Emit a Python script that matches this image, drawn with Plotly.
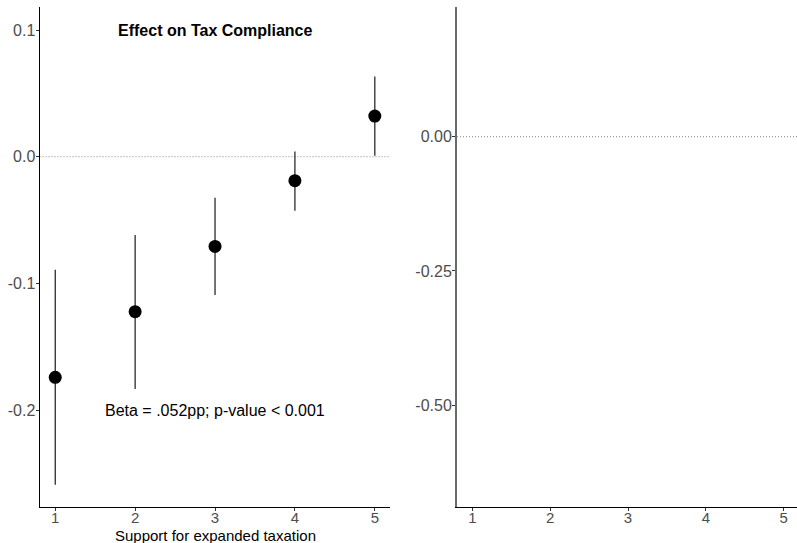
import plotly.graph_objects as go

# ---- data ----
support_levels = [1, 2, 3, 4, 5]
effect = [-0.1742, -0.1223, -0.0708, -0.0189, 0.0321]
ci_low = [-0.2590, -0.1834, -0.1092, -0.0426, 0.0008]
ci_high = [-0.0892, -0.0618, -0.0324, 0.0042, 0.0634]

x_tick_vals = [1, 2, 3, 4, 5]
x_tick_text = ["1", "2", "3", "4", "5"]
left_y_tick_vals = [0.1, 0.0, -0.1, -0.2]
left_y_tick_text = ["0.1", "0.0", "-0.1", "-0.2"]
right_y_tick_vals = [0.0, -0.25, -0.50]
right_y_tick_text = ["0.00", "-0.25", "-0.50"]

title_text = "Effect on Tax Compliance"
note_text = "Beta = .052pp; p-value < 0.001"
x_title = "Support for expanded taxation"

W, H = 797, 543
FONT = "Liberation Sans, Arial, sans-serif"

def px_x(p):
    return p / W

def px_y(p):
    return 1 - p / H

err_plus = [h - e for h, e in zip(ci_high, effect)]
err_minus = [e - l for e, l in zip(effect, ci_low)]

fig = go.Figure()
fig.add_trace(go.Scatter(
    x=support_levels, y=effect, mode="markers",
    marker=dict(size=13, color="black"),
    error_y=dict(type="data", array=err_plus, arrayminus=err_minus,
                 width=0, thickness=1.2, color="#1a1a1a"),
    xaxis="x", yaxis="y", showlegend=False, hoverinfo="skip",
))
# empty right panel
fig.add_trace(go.Scatter(x=[], y=[], mode="markers", xaxis="x2", yaxis="y2",
                         showlegend=False))

xtickfont = dict(family=FONT, size=15, color="#4d4d4d")
ytickfont = dict(family=FONT, size=16, color="#4d4d4d")
ydom = [px_y(506.7), px_y(7)]

common_x = dict(tickvals=x_tick_vals, ticktext=x_tick_text, ticks="outside",
                ticklen=3, tickcolor="#333333", tickwidth=1, showgrid=False,
                zeroline=False, showline=True, linecolor="black", linewidth=1,
                tickfont=xtickfont, automargin=False, ticklabelstandoff=-6)

common_y = dict(ticks="outside", ticklen=3, tickcolor="#333333",
                showgrid=False, zeroline=False, showline=True,
                tickfont=ytickfont, automargin=False, ticklabelstandoff=-3)

fig.update_layout(
    width=W, height=H,
    margin=dict(l=0, r=0, t=0, b=0),
    paper_bgcolor="white", plot_bgcolor="white",
    font=dict(family=FONT),
    xaxis=dict(domain=[px_x(39.5), px_x(390)], range=[0.803, 5.19],
               anchor="y", **common_x),
    yaxis=dict(domain=ydom, range=[-0.2763, 0.1182], anchor="x",
               tickvals=left_y_tick_vals, ticktext=left_y_tick_text,
               linecolor="black", linewidth=1, **common_y),
    xaxis2=dict(domain=[px_x(457), 1.0], range=[0.803, 5.171],
                anchor="y2", **common_x),
    yaxis2=dict(domain=ydom, range=[-0.6888, 0.2414], anchor="x2",
                tickvals=right_y_tick_vals, ticktext=right_y_tick_text,
                linecolor="#6a6a6a", linewidth=2, **common_y),
    shapes=[
        dict(type="line", xref="x domain", yref="y", x0=0, x1=1, y0=0, y1=0,
             line=dict(color="#888888", width=1, dash="1px,2px"), layer="below"),
        dict(type="line", xref="x2 domain", yref="y2", x0=0, x1=1, y0=0, y1=0,
             line=dict(color="#888888", width=1, dash="1px,2px"), layer="below"),
    ],
    annotations=[
        dict(text="<b>" + title_text + "</b>", x=3, y=0.1, xref="x", yref="y",
             showarrow=False, font=dict(family=FONT, size=16, color="black"),
             xanchor="center", yanchor="middle"),
        dict(text=note_text, x=3, y=-0.2, xref="x", yref="y",
             showarrow=False, font=dict(family=FONT, size=16, color="black"),
             xanchor="center", yanchor="middle"),
        dict(text=x_title, x=3, y=px_y(535), xref="x", yref="paper",
             showarrow=False, font=dict(family=FONT, size=15, color="black"),
             xanchor="center", yanchor="middle"),
    ],
)

fig.write_html("out.html")
